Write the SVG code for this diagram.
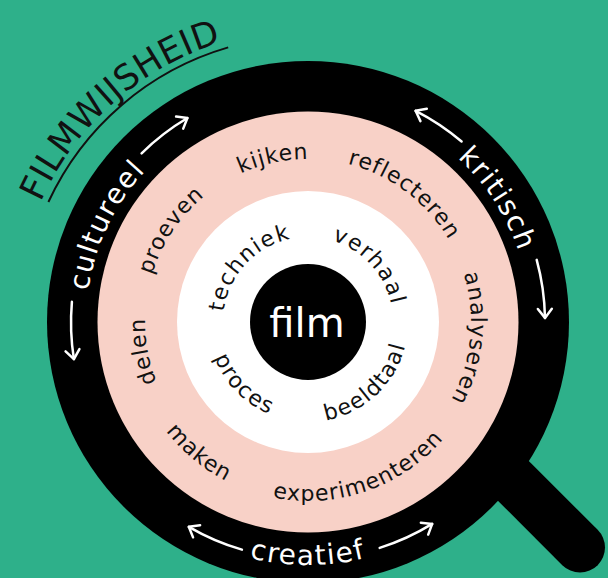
<svg xmlns="http://www.w3.org/2000/svg" xmlns:xlink="http://www.w3.org/1999/xlink" width="608" height="578" viewBox="0 0 608 578">
<style>
.t{font-family:"DejaVu Sans","Liberation Sans",sans-serif;}
.outer{font-size:28px;fill:#fff;letter-spacing:1.5px;}
.pink{font-size:22px;fill:#111;letter-spacing:1px;}
.inner{font-size:22px;fill:#111;letter-spacing:1.5px;}
.title{font-size:35px;fill:#111;letter-spacing:0.5px;}
.arr{fill:none;stroke:#fff;stroke-width:2.5;stroke-linecap:round;}
</style>
<defs>
<marker id="ah" markerUnits="userSpaceOnUse" markerWidth="20" markerHeight="20" refX="0" refY="0" viewBox="-12 -10 14 20" orient="auto">
<path d="M -9 -7 L 0 0 L -9 7" fill="none" stroke="#fff" stroke-width="2.5" stroke-linecap="round" stroke-linejoin="round"/>
</marker>
<path id="cw222" d="M 86 322 A 222 222 0 0 1 530 322"/>
<path id="ccw243" d="M 65 322 A 243 243 0 0 0 551 322"/>
<path id="cw163" d="M 145 322 A 163 163 0 0 1 471 322"/>
<path id="ccw179" d="M 129 322 A 179 179 0 0 0 487 322"/>
<path id="cw85" d="M 223 322 A 85 85 0 0 1 393 322"/>
<path id="ccw100" d="M 208 322 A 100 100 0 0 0 408 322"/>
<path id="cw293" d="M 15 322 A 293 293 0 0 1 601 322"/>
</defs>
<rect width="608" height="578" fill="#2EB08A"/>
<g id="magnifier">
<line x1="400" y1="367.5" x2="580" y2="547.5" stroke="#000" stroke-width="50" stroke-linecap="round"/>
<circle cx="308" cy="322" r="261" fill="#000"/>
</g>
<g id="title">
<path d="M 48.4 202 A 286 286 0 0 1 228.2 47.4" fill="none" stroke="#111" stroke-width="2"/>
<text class="t title" transform="rotate(-41.5 308 322)"><textPath xlink:href="#cw293" href="#cw293" startOffset="50%" text-anchor="middle">FILMWIJSHEID</textPath></text>
</g>
<g id="pink-ring">
<circle cx="308" cy="322" r="210.5" fill="#F8D1C7"/>
</g>
<g id="white-ring">
<circle cx="308" cy="322" r="131" fill="#fff"/>
</g>
<g id="film">
<circle cx="308" cy="322" r="58" fill="#000"/>
<text class="t" x="307" y="337" font-size="40" fill="#fff" text-anchor="middle">film</text>
</g>
<g id="cultureel"><text class="t outer" transform="rotate(-64.4 308 322)"><textPath xlink:href="#cw222" href="#cw222" startOffset="50%" text-anchor="middle">cultureel</textPath></text></g>
<g id="kritisch"><text class="t outer" transform="rotate(57 308 322)"><textPath xlink:href="#cw222" href="#cw222" startOffset="50%" text-anchor="middle">kritisch</textPath></text></g>
<g id="creatief"><text class="t outer"><textPath xlink:href="#ccw243" href="#ccw243" startOffset="50%" text-anchor="middle">creatief</textPath></text></g>
<g id="kijken"><text class="t pink" transform="rotate(-12.1 308 322)"><textPath xlink:href="#cw163" href="#cw163" startOffset="50%" text-anchor="middle">kijken</textPath></text></g>
<g id="reflecteren"><text class="t pink" transform="rotate(37 308 322)"><textPath xlink:href="#cw163" href="#cw163" startOffset="50%" text-anchor="middle">reflecteren</textPath></text></g>
<g id="analyseren"><text class="t pink" transform="rotate(95.8 308 322)"><textPath xlink:href="#cw163" href="#cw163" startOffset="50%" text-anchor="middle">analyseren</textPath></text></g>
<g id="experimenteren"><text class="t pink" transform="rotate(-19 308 322)"><textPath xlink:href="#ccw179" href="#ccw179" startOffset="50%" text-anchor="middle">experimenteren</textPath></text></g>
<g id="maken"><text class="t pink" transform="rotate(39.8 308 322)"><textPath xlink:href="#ccw179" href="#ccw179" startOffset="50%" text-anchor="middle">maken</textPath></text></g>
<g id="delen"><text class="t pink" transform="rotate(-100.1 308 322)"><textPath xlink:href="#cw163" href="#cw163" startOffset="50%" text-anchor="middle">delen</textPath></text></g>
<g id="proeven"><text class="t pink" transform="rotate(-56.2 308 322)"><textPath xlink:href="#cw163" href="#cw163" startOffset="50%" text-anchor="middle">proeven</textPath></text></g>
<g id="techniek"><text class="t inner" transform="rotate(-47.2 308 322)"><textPath xlink:href="#cw85" href="#cw85" startOffset="50%" text-anchor="middle">techniek</textPath></text></g>
<g id="verhaal"><text class="t inner" transform="rotate(47.6 308 322)"><textPath xlink:href="#cw85" href="#cw85" startOffset="50%" text-anchor="middle">verhaal</textPath></text></g>
<g id="proces"><text class="t inner" transform="rotate(45.7 308 322)"><textPath xlink:href="#ccw100" href="#ccw100" startOffset="50%" text-anchor="middle">proces</textPath></text></g>
<g id="beeldtaal"><text class="t inner" transform="rotate(-43.5 308 322)"><textPath xlink:href="#ccw100" href="#ccw100" startOffset="50%" text-anchor="middle">beeldtaal</textPath></text></g>
<g id="connectors">
<path class="arr" marker-end="url(#ah)" d="M 141.6 153.3 A 237 237 0 0 1 187.4 118"/>
<path class="arr" marker-end="url(#ah)" d="M 71.9 301.8 A 237 237 0 0 0 73.9 359.1"/>
<path class="arr" marker-end="url(#ah)" d="M 461.6 141.5 A 237 237 0 0 0 415.6 110.8"/>
<path class="arr" marker-end="url(#ah)" d="M 536.7 259.9 A 237 237 0 0 1 545 317.9"/>
<path class="arr" marker-end="url(#ah)" d="M 241.9 549.6 A 237 237 0 0 1 188.8 526.8"/>
<path class="arr" marker-end="url(#ah)" d="M 379.7 547.9 A 237 237 0 0 0 432.2 523.9"/>
</g>
</svg>
